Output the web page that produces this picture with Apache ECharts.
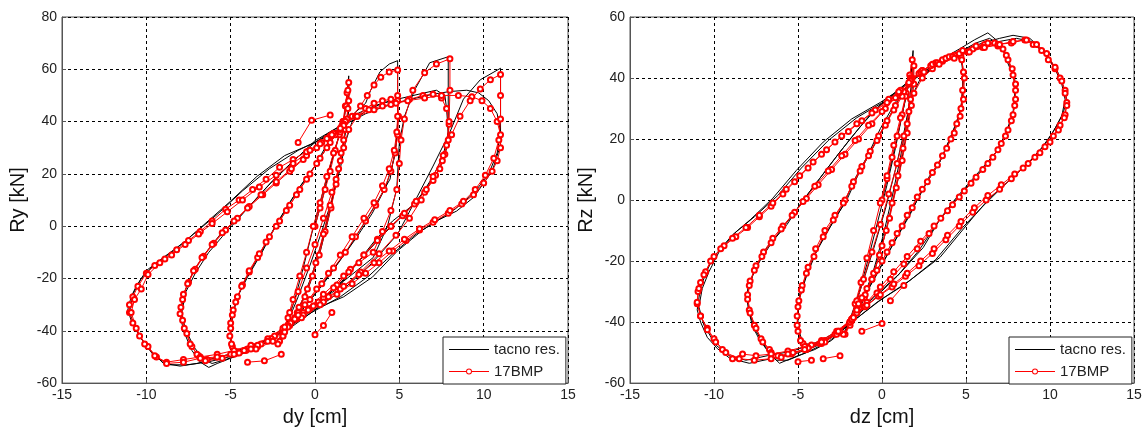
<!DOCTYPE html>
<html><head><meta charset="utf-8">
<script src="https://cdn.jsdelivr.net/npm/echarts@6/dist/echarts.min.js"></script>
<style>html,body{margin:0;padding:0;background:#fff}#c{width:1146px;height:432px}</style>
</head><body><div id="c"></div>
<script>
// ---------- tick settings ----------
const xTicks = {min:-15, max:15, step:5};
const yTicksLeft = {min:-60, max:80, step:20};
const yTicksRight = {min:-60, max:60, step:20};
const seriesNames = ['tacno res.', '17BMP'];

// ---------- LEFT PANEL (dy [cm], Ry [kN]) : "tacno res." ----------
const L_black_A2a = [[0,0],[0.5,12],[1.0,25],[1.4,34],[1.7,40],[1.85,47],[2.0,57.5],[2.0,46],[1.85,38],[1.6,28],[1.2,15],[0.8,3],[0.3,-10],[-0.3,-22],[-0.9,-31],[-1.5,-37],[-1.9,-41],[-2.2,-44],[-2.0,-42],[-1.6,-36],[-1.2,-28],[-0.7,-16],[-0.2,-3],[0.3,9],[0.8,21],[1.3,32],[1.7,40]];
const L_black_A2b = [[1.7,40],[1.9,50],[2.0,55],[2.0,44],[1.7,32],[1.3,19],[0.9,7],[0.4,-6],[-0.2,-19],[-0.8,-29],[-1.4,-36],[-1.9,-41],[-2.1,-43]];
const L_black_A5a = [[-2.1,-43],[-1.7,-38],[-1.0,-27],[-0.3,-15],[0.4,-2],[1.0,10],[1.5,22],[1.8,32],[2.2,40],[3,44],[4,47],[4.9,48.5],[4.9,40],[4.8,31],[4.45,18],[3.7,9.5],[2.85,0.5],[1.9,-9.4],[0.9,-18],[0,-26],[-0.9,-33],[-1.7,-39],[-2.5,-42.5],[-3.5,-45],[-4.3,-47],[-4.8,-47.5],[-5.0,-44],[-5.0,-38.5],[-4.85,-33.5],[-4.6,-27],[-4.0,-19.5],[-3.1,-9.5],[-2.3,0.5],[-1.7,7],[-0.9,15],[-0.1,22],[0.9,33.5],[1.6,39],[2.3,43],[3.0,47]];
const L_black_A5b = [[3.0,47],[3.3,52],[3.85,59],[4.4,62],[4.9,63.3],[4.9,36],[4.7,26],[4.2,15],[3.4,5],[2.5,-4],[1.5,-13],[0.5,-22],[-0.5,-30],[-1.3,-36],[-1.8,-40],[-2.8,-43.5],[-3.8,-46],[-4.6,-48],[-4.95,-46],[-5.0,-40],[-4.9,-34],[-4.65,-28],[-4.1,-20],[-3.2,-10],[-2.4,-0.5],[-1.6,8],[-0.8,16],[0.1,24],[1.0,33],[1.7,39]];
const L_black_A8a = [[1.7,39],[2.5,43],[3.5,46],[4.5,48],[5.5,49.5],[6.5,51],[7.2,52],[7.7,50],[7.8,45],[7.9,36],[7.8,29.6],[7.4,22],[6.6,14.5],[5.8,8],[4.6,2],[3.55,-5.5],[2.3,-15.7],[1.3,-24],[0.1,-29.6],[-0.9,-34.5],[-1.7,-39],[-2.8,-44],[-4,-48],[-5,-50.5],[-5.8,-52.5],[-6.3,-54],[-6.8,-52],[-7.3,-47.5],[-7.8,-40],[-8.0,-33.5],[-7.7,-24.5],[-7.2,-17],[-6.4,-9.5],[-5.6,-3],[-4.7,2],[-3.85,8],[-2.55,17],[-1.3,24.7],[0,32.7],[1.0,36.5],[1.8,39.5]];
const L_black_A8b = [[-1.7,-40],[0,-30],[1.7,-21],[3.45,-12],[4.3,0],[4.85,14.5],[5.0,32],[5.3,42],[5.9,52],[6.8,62.5],[7.9,64.8],[7.9,36],[7.6,27],[7.0,19],[6.2,11],[5.2,4],[4.0,-3.5],[2.8,-12],[1.6,-21],[0.5,-28],[-0.6,-33.5],[-1.7,-39.5],[-2.9,-44.5],[-4.2,-48.5],[-5.3,-51],[-6.1,-52.5],[-6.6,-51],[-7.2,-46],[-7.7,-39],[-7.9,-33],[-7.65,-25],[-7.1,-18],[-6.3,-10],[-5.5,-4],[-4.6,2.5],[-3.7,9],[-2.5,17.5],[-1.2,25.5],[0,32],[0.9,36],[1.7,39]];
const L_black_A11a = [[1.8,39],[3,43],[4,45.5],[5,47.5],[6,49],[7,50.5],[8,51.5],[9,52],[9.7,51],[10.3,48],[10.8,43],[11,36],[11,31],[10.5,21],[9.4,11],[8.4,5.8],[7.2,2],[6.4,-1.4],[4.9,-9.4],[3.4,-19.5],[1.7,-27],[-0.1,-32],[-1.7,-38.5],[-3,-44],[-4.5,-48],[-6,-50.5],[-7,-52.5],[-8,-53.5],[-9,-52.4],[-10,-46],[-10.5,-41],[-10.9,-36],[-11.1,-32],[-10.9,-27],[-10.6,-23],[-10,-17],[-9,-12],[-7.8,-6.3],[-6.6,0.5],[-5,9.6],[-3.45,19],[-1.8,27],[0,32],[1.0,35.5],[1.8,39]];
const L_black_A11b = [[-1.7,-40],[0,-32],[1.7,-24],[3.4,-14],[4.9,-3],[5.8,8],[7,23],[8,36],[8.8,48.6],[9.8,56],[11,60.4],[11,36],[10.8,28],[10.3,20],[9.4,12.5],[8.3,6.5],[7.1,1.5],[6,-3],[4.7,-10],[3.2,-19],[1.5,-27],[-0.2,-33],[-1.8,-39.5],[-3.2,-45.5],[-4.8,-49.5],[-6.4,-52],[-7.6,-53],[-8.6,-53],[-9.5,-50],[-10.2,-44],[-10.7,-38],[-11.0,-33],[-10.8,-26],[-10.3,-20],[-9.5,-14.5],[-8.4,-9.5],[-7.2,-3],[-5.8,4.5],[-4.3,13.5],[-2.7,22],[-1,29],[0.6,34],[1.6,38]];

// ---------- LEFT PANEL : "17BMP" ----------
const L_red_A2a = [[0,0],[0.3,7],[0.6,14],[0.9,21],[1.2,29],[1.45,35],[1.65,40],[1.8,46],[1.9,51],[2.0,55],[2.0,48],[1.9,41],[1.7,33],[1.5,25],[1.25,16],[0.95,7],[0.6,-2],[0.25,-11],[-0.15,-19],[-0.6,-27],[-1.05,-33],[-1.5,-38],[-1.9,-42],[-2.1,-44],[-1.9,-40],[-1.6,-35],[-1.3,-28],[-0.9,-19],[-0.5,-10],[-0.1,0],[0.3,9],[0.7,19],[1.1,28],[1.5,36],[1.7,40]];
const L_red_A2b = [[1.7,40],[1.85,46],[1.95,52],[1.95,45],[1.8,37],[1.55,28],[1.25,18],[0.9,8],[0.5,-3],[0.05,-14],[-0.45,-24],[-0.95,-31],[-1.45,-37],[-1.9,-42],[-2.2,-45]];
const L_red_A5a = [[-1.9,-40],[-1.5,-33],[-1.0,-25],[-0.5,-16],[0,-7],[0.5,3],[1.0,13],[1.4,22],[1.7,30],[2.0,37],[2.5,42],[3.0,45],[3.5,47],[4.0,48],[4.5,48.5],[4.9,48],[4.95,42],[4.9,35],[4.75,28],[4.5,21],[4.1,14],[3.6,8],[3.0,2],[2.4,-4],[1.8,-10],[1.1,-16],[0.4,-22],[-0.3,-28],[-1.0,-33],[-1.6,-38],[-2.4,-42],[-3.2,-45],[-4.0,-47],[-4.6,-48],[-4.9,-46],[-5.05,-42],[-5.0,-37],[-4.85,-32],[-4.6,-27],[-4.3,-22.5],[-3.9,-17.5],[-3.4,-12],[-2.9,-6],[-2.3,0],[-1.7,6],[-1.1,12],[-0.5,18],[0.1,24],[0.7,30],[1.2,35],[1.7,39.5]];
const L_red_A5b = [[1.7,39.5],[2.2,42],[2.7,46],[3.1,50],[3.5,54],[3.9,57],[4.4,59],[4.9,59.7],[4.9,50],[4.9,42],[4.85,36],[4.7,29],[4.4,22],[4.0,15.5],[3.5,9],[2.9,3],[2.2,-4],[1.5,-11],[0.8,-18],[0.1,-24],[-0.6,-30],[-1.2,-35],[-1.8,-40],[-2.6,-43],[-3.4,-46],[-4.1,-47.5],[-4.6,-48.5],[-4.95,-45],[-5.0,-39],[-4.9,-34],[-4.7,-29],[-4.35,-23],[-3.9,-17],[-3.3,-10.5],[-2.7,-4],[-2.1,2],[-1.5,8],[-0.9,14],[-0.3,20],[0.3,26],[0.9,32],[1.5,37],[1.8,40]];
const L_red_A8a = [[1.8,40],[2.4,42],[3.2,44.5],[4.0,46],[4.8,47],[5.6,48.5],[6.4,50],[7.0,50.5],[7.5,49],[7.8,45],[7.95,39],[7.9,33],[7.7,27.5],[7.4,22],[7.0,17.5],[6.5,13],[5.9,8.5],[5.2,4],[4.5,0],[3.7,-5],[2.9,-11],[2.1,-16.5],[1.3,-22.5],[0.5,-27.5],[-0.3,-31.5],[-1.1,-35.5],[-1.8,-39.5],[-2.6,-43],[-3.4,-45.5],[-4.2,-47.5],[-5.0,-49],[-5.8,-50],[-6.4,-51],[-6.9,-49.5],[-7.3,-46],[-7.6,-41],[-7.85,-36],[-7.95,-31],[-7.8,-26],[-7.5,-21.5],[-7.1,-16.5],[-6.6,-11.5],[-6.0,-6.5],[-5.3,-1.5],[-4.6,3],[-3.9,7.5],[-3.1,12],[-2.3,16.5],[-1.5,21],[-0.7,25.5],[0.1,30],[0.9,34.5],[1.6,38.5]];
const L_red_A8b = [[-1.8,-40],[-0.7,-33],[0.5,-26],[1.7,-19],[2.6,-14],[3.45,-10],[4.0,-2],[4.5,6],[4.85,14],[5.0,24],[5.1,33],[5.3,41],[5.8,52],[6.5,58.7],[7.2,62],[8.0,64],[8.0,52],[7.95,40],[7.8,31],[7.55,25],[7.15,19.5],[6.6,14],[6.0,9.5],[5.3,5],[4.5,0],[3.7,-5.5],[2.9,-11],[2.0,-17.5],[1.1,-23.5],[0.2,-29],[-0.7,-34],[-1.6,-38.5],[-2.5,-44],[-3.5,-47],[-4.5,-48.5],[-5.5,-50.5],[-6.5,-51.5],[-7.0,-49],[-7.4,-45],[-7.75,-39],[-8.0,-33.5],[-7.85,-28],[-7.55,-22],[-7.2,-17],[-6.7,-12],[-6.1,-7],[-5.5,-2.5],[-4.8,2],[-4.0,7],[-3.2,12],[-2.3,17],[-1.4,22],[-0.5,27],[0.4,32],[1.1,35.5],[1.7,39]];
const L_red_A11a = [[1.7,39],[2.5,42],[3.5,44.5],[4.5,46.5],[5.5,48],[6.5,49],[7.5,50],[8.5,50],[9.3,49.5],[9.9,48],[10.4,45],[10.8,40],[11.0,35],[11.0,30],[10.8,25],[10.5,21],[10.0,16.5],[9.4,12],[8.7,8.5],[7.9,5],[7.0,1.5],[6.2,-1.5],[5.4,-5.5],[4.6,-9.5],[3.8,-14],[3.0,-18],[2.2,-22],[1.3,-26],[0.5,-29],[-0.4,-32],[-1.2,-35.5],[-1.9,-39],[-2.8,-43],[-3.8,-45.5],[-4.8,-47.5],[-5.8,-49],[-6.8,-50],[-7.8,-51],[-8.8,-52],[-9.4,-50],[-9.9,-46],[-10.4,-42],[-10.8,-37],[-11.0,-33],[-11.0,-30],[-10.8,-27],[-10.5,-23],[-10.0,-18],[-9.5,-15],[-8.9,-12.5],[-8.2,-9],[-7.5,-5.5],[-6.8,-2],[-6.1,2],[-5.3,6.5],[-4.5,10],[-3.7,14],[-2.9,18],[-2.1,22.5],[-1.3,25.5],[-0.5,28.5],[0.3,31.5],[1.0,35],[1.7,38.5]];
const L_red_A11b = [[-1.8,-40.5],[-0.8,-35],[0.3,-30],[1.5,-24],[2.7,-17.5],[3.8,-10.5],[4.8,-3.5],[5.6,3],[6.3,10],[7.0,19],[7.6,27],[8.1,35],[8.6,42],[9.2,48],[9.8,52.5],[10.4,56],[11.0,58],[11.0,50],[11.0,41],[10.9,33],[10.6,26],[10.1,19.5],[9.5,14],[8.8,9.5],[8.0,6],[7.1,2.5],[6.2,-1],[5.3,-5],[4.4,-9.5],[3.5,-14],[2.6,-18.5],[1.7,-23],[0.8,-27],[-0.1,-30.5],[-1.0,-34],[-1.8,-38.5],[-2.8,-44],[-3.8,-47],[-4.8,-49],[-5.8,-50],[-6.8,-50.5],[-7.8,-52],[-8.8,-52.5],[-9.5,-49.5],[-10.1,-45],[-10.6,-39],[-10.9,-33],[-10.7,-28],[-10.3,-24],[-9.9,-18.5],[-9.2,-14],[-8.5,-11],[-7.7,-7],[-6.9,-3],[-6.1,1],[-5.2,5.5],[-4.3,10],[-3.3,15],[-2.3,19.5],[-1.3,24],[-0.3,29],[0.7,33.5],[1.5,37.5]];
const L_red_stray1 = [[-1.0,32],[-0.2,40.5],[0.9,42.5]];
const L_red_stray2 = [[-4.0,-52],[-3.0,-51.5],[-2.0,-49]];
const L_red_stray3 = [[0,-41.5],[0.5,-38],[1.0,-33]];

// ---------- RIGHT PANEL (dz [cm], Rz [kN]) : "tacno res." ----------
const R_black_A2a = [[0,0],[0.5,11],[1.0,23],[1.4,33],[1.7,41],[1.85,49],[1.85,40],[1.7,31],[1.4,20],[1.0,8],[0.5,-4],[0,-15],[-0.6,-26],[-1.2,-34],[-1.8,-40],[-2.2,-43],[-1.9,-39],[-1.4,-31],[-0.9,-21],[-0.3,-8],[0.3,5],[0.8,17],[1.2,28],[1.5,36],[1.7,40]];
const R_black_A2b = [[1.7,40],[1.8,45],[1.75,38],[1.5,27],[1.1,14],[0.6,1],[0.1,-11],[-0.5,-23],[-1.1,-32],[-1.8,-40],[-2.3,-44]];
const R_black_A5a = [[-2.3,-44],[-1.8,-38],[-1.2,-28],[-0.5,-16],[0.2,-3],[0.8,10],[1.3,22],[1.7,33],[2.3,40],[3.2,44],[4.0,47],[4.6,48.2],[4.8,44],[4.8,37],[4.7,30],[4.35,24.4],[3.95,19],[3.45,12.6],[2.85,8.1],[2.15,0.6],[1.67,-4.8],[0.65,-14.6],[-0.3,-24.3],[-1.3,-34],[-1.8,-40],[-2.8,-44],[-3.8,-47],[-4.5,-48],[-4.9,-46],[-5.0,-42],[-5.0,-38],[-4.9,-30.7],[-4.1,-18.8],[-3.1,-9],[-2.3,-1.6],[-1.6,7.1],[-0.85,14.6],[-0.1,23.4],[0.8,32],[1.6,38.5]];
const R_black_A5b = [[1.6,38.5],[2.5,42],[3.3,45],[4.1,47.5],[4.7,47],[4.85,40],[4.75,32],[4.5,26],[4.0,19.5],[3.4,12],[2.7,6],[2.0,-1],[1.5,-6],[0.5,-16],[-0.5,-26],[-1.4,-35],[-1.9,-40],[-3,-45],[-4,-47.5],[-4.7,-47],[-5.05,-41],[-4.95,-33],[-4.5,-25],[-3.8,-15.5],[-2.9,-7],[-2.1,0],[-1.4,8.5],[-0.6,16.5],[0.2,25],[1.0,33],[1.7,39]];
const R_black_A8a = [[1.7,39],[2.6,42.5],[3.5,46],[4.6,49.5],[5.5,52.5],[6.3,54.8],[6.8,52.5],[7.2,50.4],[7.4,46],[7.9,39.6],[7.9,34],[7.8,28.8],[7.4,22.3],[6.8,15.8],[5.6,8.2],[4.4,0.6],[3.5,-5.8],[2.45,-15.6],[1.07,-24],[-0.5,-31.8],[-1.8,-40],[-3,-46],[-4,-49],[-5,-51],[-6.1,-53.5],[-6.7,-50.3],[-7.3,-45.7],[-7.7,-41.5],[-7.95,-36],[-8.05,-31.8],[-7.95,-27.5],[-7.25,-19.8],[-6.5,-13.4],[-5.65,-8],[-4.75,-0.4],[-3.7,7.1],[-2.5,15.8],[-1.3,24],[-0.2,30.8],[0.8,35],[1.6,38.5]];
const R_black_A8b = [[1.6,38.5],[2.6,42],[3.6,45.5],[4.6,48.5],[5.6,51.5],[6.4,53],[7.0,51],[7.5,46],[7.85,40],[7.95,33],[7.75,27],[7.3,20.5],[6.6,14],[5.5,7],[4.3,-0.5],[3.3,-7.5],[2.2,-16.5],[0.9,-25],[-0.6,-33],[-1.9,-40.5],[-3.2,-46.5],[-4.5,-50],[-5.6,-52.5],[-6.3,-52.5],[-6.9,-48.5],[-7.5,-43],[-7.9,-37],[-8.0,-30.5],[-7.6,-23],[-6.9,-16],[-6.1,-10.5],[-5.2,-4],[-4.2,3.5],[-3.1,11.5],[-1.9,20],[-0.7,28],[0.5,34],[1.6,39]];
const R_black_A11a = [[1.6,39],[2.8,43],[4,46.5],[5,49.5],[6,51.5],[7.0,53],[7.8,54],[8.8,53],[9.6,49],[10.4,42.8],[10.8,37.3],[11,33],[10.8,28.8],[10.4,24.4],[9.8,19],[8.8,12.6],[7.7,7],[6.4,0.6],[5.4,-5.8],[3.45,-18.8],[1.67,-26.3],[0,-32.4],[-1.8,-40],[-3.5,-47],[-5.1,-50.3],[-6.5,-51.9],[-7.9,-53.5],[-9.05,-51.9],[-9.8,-48.7],[-10.4,-45],[-10.8,-40],[-11.0,-36],[-10.8,-28.5],[-10.4,-23],[-10.05,-18.8],[-8.9,-11.4],[-7.85,-6.5],[-6.5,0.6],[-5.1,9.7],[-3.5,19],[-1.8,26.6],[-0.1,32],[1.0,36],[1.7,39.5]];
const R_black_A11b = [[1.7,39.5],[2.8,42.5],[4,46],[5,48.5],[6,50.5],[7,52],[8,53],[8.9,52],[9.7,48],[10.3,43],[10.7,38],[10.9,33],[10.7,27.5],[10.2,22.5],[9.5,17],[8.5,11],[7.3,5],[6.1,-1.5],[4.8,-9],[3.2,-19.5],[1.4,-27.5],[-0.3,-33.5],[-1.9,-40.5],[-3.6,-46],[-5.3,-49.5],[-6.8,-51],[-8.1,-52.5],[-9.1,-51],[-9.9,-47.5],[-10.6,-41],[-10.9,-35],[-10.7,-29],[-10.3,-23.5],[-9.7,-17],[-8.7,-10.5],[-7.6,-5.5],[-6.2,1.5],[-4.8,10.5],[-3.2,19.5],[-1.5,27],[0.2,32.5]];

// ---------- RIGHT PANEL : "17BMP" ----------
const R_red_A2a = [[0,0],[0.3,7],[0.6,14],[0.9,21],[1.2,28],[1.45,35],[1.65,41],[1.8,46],[1.8,40],[1.7,33],[1.5,25],[1.25,17],[0.95,8],[0.6,-1],[0.25,-10],[-0.15,-18],[-0.6,-26],[-1.05,-32],[-1.5,-37],[-1.9,-41],[-2.2,-44],[-1.9,-40],[-1.6,-34],[-1.25,-27],[-0.9,-19],[-0.5,-10],[-0.1,-1],[0.3,8],[0.7,18],[1.1,27],[1.4,34],[1.7,40]];
const R_red_A2b = [[1.7,40],[1.9,44],[1.9,38],[1.75,31],[1.5,22],[1.2,13],[0.85,4],[0.45,-6],[0,-15],[-0.5,-24],[-1.0,-31],[-1.5,-36],[-1.9,-40],[-2.3,-44]];
const R_red_A5a = [[-1.9,-40],[-1.5,-33],[-1.1,-26],[-0.6,-17],[-0.1,-8],[0.4,2],[0.9,12],[1.3,21],[1.6,29],[1.9,35],[2.4,40],[3.0,43],[3.6,45.5],[4.2,47],[4.7,47],[4.85,42],[4.8,36],[4.7,30],[4.45,25],[4.1,20],[3.6,14.5],[3.0,9],[2.4,3.5],[1.8,-2.5],[1.2,-8.5],[0.6,-14],[0,-20],[-0.6,-26],[-1.2,-32],[-1.8,-39],[-2.6,-43],[-3.4,-46],[-4.2,-47.5],[-4.7,-47],[-5.0,-43],[-5.05,-38],[-4.95,-33],[-4.75,-28],[-4.4,-22],[-3.95,-16],[-3.4,-10],[-2.8,-5],[-2.2,0],[-1.7,6],[-1.2,11],[-0.7,16],[-0.2,21],[0.3,26],[0.8,31],[1.3,35.5],[1.7,39]];
const R_red_A5b = [[1.7,39],[2.2,41.5],[2.9,44],[3.6,46],[4.3,47.5],[4.75,46],[4.9,40],[4.85,33],[4.65,27.5],[4.3,22],[3.85,17],[3.3,11.5],[2.7,6],[2.1,1],[1.5,-5],[0.9,-11],[0.3,-17],[-0.3,-23],[-0.9,-29],[-1.4,-34],[-1.9,-40],[-2.8,-44],[-3.7,-47],[-4.4,-48.5],[-4.85,-46],[-5.05,-41],[-5.0,-35],[-4.8,-29.5],[-4.5,-24],[-4.05,-18.5],[-3.5,-12],[-2.9,-6.5],[-2.3,-1],[-1.8,4.5],[-1.3,9.5],[-0.8,14.5],[-0.3,19.5],[0.2,24.5],[0.7,29.5],[1.2,34],[1.7,39]];
const R_red_A8a = [[1.7,39],[2.3,42],[3.0,44.5],[3.8,46.5],[4.6,48],[5.4,49.5],[6.1,51],[6.7,51.5],[7.2,49.5],[7.5,46],[7.8,41],[7.95,36],[7.9,31],[7.7,26],[7.35,21],[6.9,16.5],[6.3,12],[5.6,7.5],[4.9,3],[4.2,-1.5],[3.5,-6],[2.8,-11],[2.1,-16],[1.3,-21],[0.5,-26],[-0.3,-30.5],[-1.1,-35],[-1.8,-39.5],[-2.7,-44],[-3.6,-47],[-4.5,-49],[-5.4,-50.5],[-6.2,-51],[-6.7,-49],[-7.2,-45.5],[-7.6,-41],[-7.9,-36],[-8.0,-31],[-7.85,-26.5],[-7.5,-21.5],[-7.05,-17],[-6.5,-12.5],[-5.9,-8.5],[-5.2,-4],[-4.5,0.5],[-3.8,5],[-3.0,10],[-2.2,15],[-1.4,20],[-0.6,25],[0.2,30],[1.0,35],[1.7,39.5]];
const R_red_A8b = [[1.7,39.5],[2.4,42.5],[3.2,45],[4.0,47],[4.8,49],[5.6,50.5],[6.3,51.5],[6.9,50.5],[7.4,47.5],[7.75,43],[7.95,38],[7.95,33],[7.8,28],[7.5,23],[7.1,18.5],[6.6,14],[6.0,10],[5.3,5.5],[4.6,1],[3.9,-3.5],[3.1,-8.5],[2.3,-13.5],[1.5,-18.5],[0.7,-23.5],[-0.1,-28.5],[-0.9,-33.5],[-1.7,-38.5],[-2.5,-43],[-3.4,-46.5],[-4.4,-48.5],[-5.3,-50],[-6.0,-51.5],[-6.6,-50],[-7.1,-46.5],[-7.5,-42],[-7.85,-37],[-8.0,-32.5],[-7.9,-28],[-7.6,-23],[-7.15,-18.5],[-6.6,-14],[-6.0,-9.5],[-5.35,-5],[-4.7,-0.5],[-4.0,4.5],[-3.2,9.5],[-2.4,14.5],[-1.6,19.5],[-0.8,24.5],[0,29],[0.8,33.5],[1.6,38]];
const R_red_A11a = [[1.6,38],[2.4,42.5],[3.3,45],[4.2,47],[5.1,48.5],[6.0,50],[6.9,51],[7.7,51.5],[8.5,52.5],[9.0,51],[9.5,49],[9.9,46],[10.3,43],[10.6,40],[10.9,36],[11.0,32],[10.9,28],[10.6,24.5],[10.2,21],[9.7,17.5],[9.1,14],[8.4,10.5],[7.7,7],[7.0,3.5],[6.2,0],[5.4,-4],[4.6,-8.5],[3.8,-13],[3.0,-17.5],[2.2,-21.5],[1.4,-25],[0.6,-28.5],[-0.2,-31.5],[-1.0,-35],[-1.8,-39],[-2.7,-43],[-3.6,-46],[-4.6,-48],[-5.6,-49.5],[-6.6,-50.5],[-7.5,-51],[-8.3,-50.5],[-8.9,-52],[-9.5,-49],[-10.0,-45.5],[-10.4,-42],[-10.8,-38],[-11.0,-34],[-10.95,-30],[-10.8,-27],[-10.5,-23.5],[-10.0,-18.5],[-9.4,-15],[-8.7,-12],[-8.0,-9],[-7.3,-5.5],[-6.6,-2],[-5.9,2],[-5.2,6],[-4.4,10.5],[-3.6,15],[-2.8,19],[-2.0,22.5],[-1.2,26],[-0.4,29.5],[0.4,33],[1.1,36],[1.7,39]];
const R_red_A11b = [[1.7,39],[2.5,42],[3.4,44.5],[4.3,46.5],[5.2,48.5],[6.1,50],[7.0,51],[7.8,52],[8.6,52.5],[9.2,51],[9.8,48],[10.3,43.5],[10.7,39],[10.9,35],[11.0,31],[10.85,27],[10.5,23],[10.0,19],[9.4,15.5],[8.7,12],[7.9,8.5],[7.1,5],[6.3,1.5],[5.5,-2.5],[4.7,-7],[3.9,-11.5],[3.1,-16],[2.3,-20],[1.5,-24],[0.7,-27.5],[-0.1,-31],[-0.9,-34.5],[-1.7,-38.5],[-2.6,-43],[-3.6,-46.5],[-4.6,-49],[-5.6,-50.5],[-6.6,-52],[-7.6,-52.5],[-8.5,-52],[-9.3,-50],[-9.9,-46.5],[-10.4,-42.5],[-10.8,-38],[-11.0,-33.5],[-10.9,-29],[-10.6,-24.5],[-10.2,-20],[-9.6,-16],[-8.9,-12.5],[-8.1,-9],[-7.3,-5],[-6.5,-1],[-5.7,3.5],[-4.9,8],[-4.1,12.5],[-3.3,16.5],[-2.4,21],[-1.5,25],[-0.6,28.5],[0.3,32],[1.0,35.5],[1.6,38.5]];
const R_red_stray1 = [[-1.2,-43],[0,-40.5]];
const R_red_stray2 = [[0.5,-33],[1.3,-28]];
const R_red_stray3 = [[-3.5,-52],[-2.5,-51]];
const R_red_stray4 = [[-5.0,-53],[-4.2,-52.5]];

// ---------- build ----------
const leftBlack = [L_black_A2a,L_black_A2b,L_black_A5a,L_black_A5b,L_black_A8a,L_black_A8b,L_black_A11a,L_black_A11b];
const leftRed = [L_red_A2a,L_red_A2b,L_red_A5a,L_red_A5b,L_red_A8a,L_red_A8b,L_red_A11a,L_red_A11b,L_red_stray1,L_red_stray2,L_red_stray3];
const rightBlack = [R_black_A2a,R_black_A2b,R_black_A5a,R_black_A5b,R_black_A8a,R_black_A8b,R_black_A11a,R_black_A11b];
const rightRed = [R_red_A2a,R_red_A2b,R_red_A5a,R_red_A5b,R_red_A8a,R_red_A8b,R_red_A11a,R_red_A11b,R_red_stray1,R_red_stray2,R_red_stray3,R_red_stray4];

const FONT = 'Liberation Sans, Arial, sans-serif';
function blackSeries(cycles, gi){
  return cycles.map(d => ({type:'line', name:seriesNames[0], xAxisIndex:gi, yAxisIndex:gi, data:d,
    symbol:'none', lineStyle:{color:'#000', width:1}, itemStyle:{color:'#000'}, z:2, silent:true}));
}
function redSeries(cycles, gi){
  return cycles.map(d => ({type:'line', name:seriesNames[1], xAxisIndex:gi, yAxisIndex:gi, data:d,
    symbol:'emptyCircle', symbolSize:5, showAllSymbol:true,
    lineStyle:{color:'#ff0000', width:1}, itemStyle:{color:'#ff0000', borderColor:'#ff0000', borderWidth:1}, z:3, silent:true}));
}
function xAx(gi, name){
  return {gridIndex:gi, type:'value', min:xTicks.min, max:xTicks.max, interval:xTicks.step,
    name:name, nameLocation:'middle', nameGap:23,
    nameTextStyle:{fontSize:20, color:'#111', fontFamily:FONT},
    axisLine:{show:true, onZero:false, lineStyle:{color:'#555'}},
    axisTick:{show:true, inside:true, length:4, lineStyle:{color:'#555'}},
    axisLabel:{fontSize:14, color:'#222', fontFamily:FONT, margin:5},
    splitLine:{show:true, lineStyle:{color:'#000', type:[3,3], width:1}}};
}
function yAx(gi, name, t){
  return {gridIndex:gi, type:'value', min:t.min, max:t.max, interval:t.step,
    name:name, nameLocation:'middle', nameGap:34,
    nameTextStyle:{fontSize:20, color:'#111', fontFamily:FONT},
    axisLine:{show:true, onZero:false, lineStyle:{color:'#555'}},
    axisTick:{show:true, inside:true, length:4, lineStyle:{color:'#555'}},
    axisLabel:{fontSize:14, color:'#222', fontFamily:FONT, margin:5},
    splitLine:{show:true, lineStyle:{color:'#000', type:[3,3], width:1}}};
}
// legend icons: thin line (black) and line with small hollow circle (red); corner specks fix the icon box
const ICON_LINE = 'path://M0,3.5H40V4.5H0Z M0,0H0.01V0.01H0Z M40,8H39.99V7.99H40Z';
const ICON_LINE_CIRCLE = 'path://M0,3.5H17V4.5H0Z M23,3.5H40V4.5H23Z M23,4A3,3 0 1,0 17,4A3,3 0 1,0 23,4Z M22,4A2,2 0 1,1 18,4A2,2 0 1,1 22,4Z M0,0H0.01V0.01H0Z M40,8H39.99V7.99H40Z';
function legend(left){
  return {left:left, top:337, orient:'vertical', selectedMode:false,
    data:[{name:seriesNames[0], icon:ICON_LINE, itemStyle:{color:'#000', borderWidth:0}},
          {name:seriesNames[1], icon:ICON_LINE_CIRCLE, itemStyle:{color:'#ff0000', borderWidth:0, borderColor:'transparent'}}],
    borderColor:'#222', borderWidth:1, backgroundColor:'#fff', borderRadius:0,
    padding:[5,6,5,6], itemGap:7, itemWidth:40, itemHeight:8,
    textStyle:{fontSize:15, color:'#222', fontFamily:FONT}};
}

const chart = echarts.init(document.getElementById('c'), null, {renderer:'canvas'});
chart.setOption({
  animation:false,
  backgroundColor:'#fff',
  grid:[
    {left:62, top:17, width:506, height:370, show:true, borderColor:'#555', borderWidth:1},
    {left:630, top:17, width:504, height:370, show:true, borderColor:'#555', borderWidth:1}
  ],
  xAxis:[xAx(0,'dy [cm]'), xAx(1,'dz [cm]')],
  yAxis:[yAx(0,'Ry [kN]', yTicksLeft), yAx(1,'Rz [kN]', yTicksRight)],
  legend:[legend(443), legend(1009)],
  series:[].concat(blackSeries(leftBlack,0), redSeries(leftRed,0), blackSeries(rightBlack,1), redSeries(rightRed,1))
});
</script></body></html>
